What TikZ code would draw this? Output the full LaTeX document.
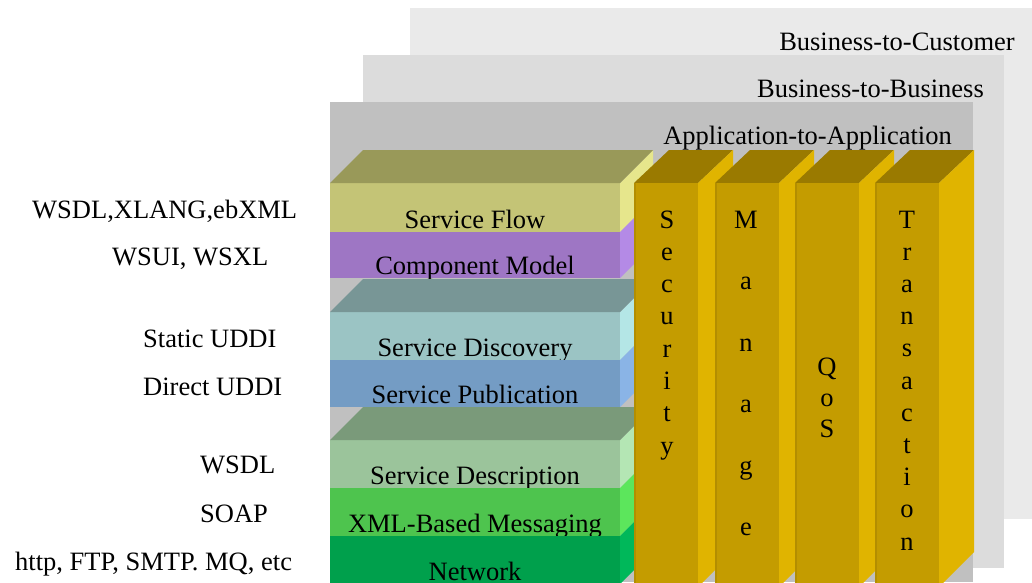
\documentclass[tikz,border=0pt]{standalone}
\usepackage{fontspec}
\setmainfont{Liberation Serif}
\usepackage{tikz}
\usetikzlibrary{positioning,calc}

\definecolor{panelC}{HTML}{EAEAEA}
\definecolor{panelB}{HTML}{DCDCDC}
\definecolor{panelA}{HTML}{C0C0C0}
\definecolor{flowT}{HTML}{999959}
\definecolor{flowF}{HTML}{C4C476}
\definecolor{flowS}{HTML}{E6E68C}
\definecolor{compF}{HTML}{9E76C4}
\definecolor{compS}{HTML}{B48AE6}
\definecolor{discT}{HTML}{789696}
\definecolor{discF}{HTML}{9BC4C4}
\definecolor{discS}{HTML}{B4E6E6}
\definecolor{pubF}{HTML}{749CC4}
\definecolor{pubS}{HTML}{8AB4E6}
\definecolor{descT}{HTML}{7A9A7A}
\definecolor{descF}{HTML}{9BC49B}
\definecolor{descS}{HTML}{B4E6B4}
\definecolor{xmlF}{HTML}{4EC44E}
\definecolor{xmlS}{HTML}{5CE65C}
\definecolor{netF}{HTML}{00A04C}
\definecolor{netS}{HTML}{00B85A}
\definecolor{colT}{HTML}{9A7A00}
\definecolor{colF}{HTML}{C49C00}
\definecolor{colS}{HTML}{E0B400}
\definecolor{colE}{HTML}{B38E00}

\tikzset{
  lbl/.style={font=\fontsize{26.5}{31}\selectfont, inner sep=0pt},
  letter/.style={lbl, anchor=base},
}

\begin{document}
\begin{tikzpicture}[x=1pt,y=-1pt]
\useasboundingbox (0,0) rectangle (1032,582);
% the three panels
\fill[panelC] (410,8) rectangle (1032,519);
\fill[panelB] (363,55) rectangle (1004,568);
\fill[panelA] (330,102) rectangle (973,582);
\node[lbl,anchor=base east] (b2c) at (1015,50) {Business-to-Customer};
\node[lbl,anchor=base east] (b2b) at (984,97) {Business-to-Business};
\node[lbl,anchor=base east] (a2a) at (952,144) {Application-to-Application};

% layers of the stack
\foreach \yt/\yb/\fc/\sc/\txt/\nm in {183/232/flowF/flowS/Service Flow/flow,
    232/278/compF/compS/Component Model/comp,
    312/360/discF/discS/Service Discovery/disc,
    360/407/pubF/pubS/Service Publication/pub,
    440/488/descF/descS/Service Description/desc,
    488/536/xmlF/xmlS/XML-Based Messaging/xml,
    536/584/netF/netS/Network/net}{
  \fill[\sc] (620,\yt) -- (653,\yt-33) -- (653,\yb-33) -- (620,\yb) -- cycle;
  \fill[\fc] (330,\yt) rectangle (620,\yb);
  \node[lbl,anchor=base] (\nm) at (475,\yb-4) {\txt};
}
% top faces of the three groups
\foreach \yt/\tc in {183/flowT, 312/discT, 440/descT}
  \fill[\tc] (330,\yt) -- (363,\yt-33) -- (653,\yt-33) -- (620,\yt) -- cycle;

% columns
\foreach \x in {634,715,795,875}{
  \fill[colT] (\x,183) -- (\x+35,150) -- (\x+99,150) -- (\x+64,183) -- cycle;
  \fill[colS] (\x+64,183) -- (\x+99,150) -- (\x+99,552) -- (\x+64,587) -- cycle;
  \fill[colF] (\x,183) rectangle (\x+64,590);
  \draw[colE,line width=2pt] (\x+1,183) -- (\x+1,590);
}
\foreach \c [count=\k from 0] in {S,e,c,u,r,i,t,y}
  \node[letter] (sec\k) at (667,228+32.3*\k) {\c};
\foreach \c [count=\k from 0] in {M,a,n,a,g,e}
  \node[letter] (man\k) at (746,228+61.5*\k) {\c};
\foreach \c [count=\k from 0] in {Q,o,S}
  \node[letter] (qos\k) at (827,375+31*\k) {\c};
\foreach \c [count=\k from 0] in {T,r,a,n,s,a,c,t,i,o,n}
  \node[letter] (tra\k) at (907,228+32.2*\k) {\c};

% labels on the left
\node[lbl,anchor=base west] (wsdlx) at (32,218) {WSDL,XLANG,ebXML};
\node[lbl,anchor=base west] (wsui) at (112,265) {WSUI, WSXL};
\node[lbl,anchor=base west] (sudd) at (143,347) {Static UDDI};
\node[lbl,anchor=base west] (dudd) at (143,395) {Direct UDDI};
\node[lbl,anchor=base west] (wsdl) at (200,473) {WSDL};
\node[lbl,anchor=base west] (soap) at (200,522) {SOAP};
\node[lbl,anchor=base west] (http) at (15,570) {http, FTP, SMTP. MQ, etc};
\end{tikzpicture}
\end{document}
